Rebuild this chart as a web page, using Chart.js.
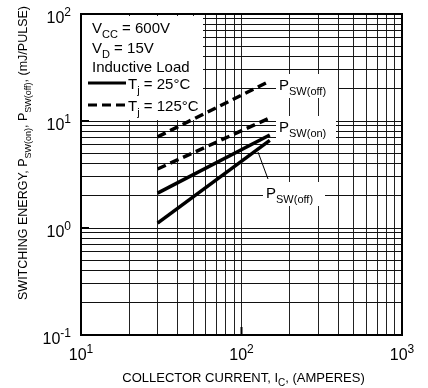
<!DOCTYPE html>
<html>
<head>
<meta charset="utf-8">
<script src="https://cdn.jsdelivr.net/npm/chart.js@4/dist/chart.umd.min.js"></script>
<style>
  body { margin: 0; background: #fff; }
  #wrap { width: 428px; height: 388px; }
</style>
</head>
<body>
<div id="wrap"><canvas id="energyChart" width="428" height="388"></canvas></div>
<script>
// collector current (A) at the two ends of each curve
const currents = [30, 150];
// switching energy (mJ/pulse)
const offHot = [7.1, 23.6];    // Psw(off), Tj = 125°C
const onHot = [3.56, 10.7];    // Psw(on),  Tj = 125°C
const onCold = [2.12, 7.4];    // Psw(on),  Tj = 25°C
const offCold = [1.11, 6.6];   // Psw(off), Tj = 25°C

const xDecades = [1, 2, 3];
const yDecades = [-1, 0, 1, 2];

const FONT = "'Liberation Sans', Arial, sans-serif";

function points(ys) {
    return currents.map((x, i) => ({ x: x, y: ys[i] }));
}

// 1..9 x 10^n between min and max, for the log grid
function logGrid(min, max) {
    const out = [];
    for (let e = Math.round(Math.log10(min)); e < Math.round(Math.log10(max)); e++) {
        for (let m = 1; m < 10; m++) out.push(m * Math.pow(10, e));
    }
    out.push(max);
    return out;
}

// draws text made of pieces: [text, 'sub' | 'sup' | '']
function richText(ctx, parts, x, y, size, align) {
    const small = Math.round(size * 0.75);
    let w = 0;
    parts.forEach(p => {
        ctx.font = (p[1] ? small : size) + 'px ' + FONT;
        w += ctx.measureText(p[0]).width;
    });
    let cx = align === 'right' ? x - w : align === 'center' ? x - w / 2 : x;
    ctx.textAlign = 'left';
    ctx.textBaseline = 'alphabetic';
    parts.forEach(p => {
        ctx.font = (p[1] ? small : size) + 'px ' + FONT;
        let dy = 0;
        if (p[1] === 'sub') dy = size * 0.3;
        if (p[1] === 'sup') dy = -size * 0.42;
        ctx.fillText(p[0], cx, y + dy);
        cx += ctx.measureText(p[0]).width;
    });
    return w;
}

function sw(kind) {
    return [['P', ''], ['SW(' + kind + ')', 'sub']];
}

const decor = {
    id: 'decor',
    beforeDatasetsDraw(chart) {
        const ctx = chart.ctx;
        const a = chart.chartArea;
        const xs = chart.scales.x, ys = chart.scales.y;
        ctx.save();
        ctx.fillStyle = '#fff';
        // legend box
        ctx.fillRect(a.left + 1, a.top + 2, 121, 104);
        // label backgrounds
        ctx.fillRect(276, 74, 62, 24);
        ctx.fillRect(276, 116, 60, 24);
        ctx.fillRect(263, 182, 62, 24);

        ctx.fillStyle = '#000';
        richText(ctx, [['V', ''], ['CC', 'sub'], [' = 600V', '']], a.left + 11, 33, 15, 'left');
        richText(ctx, [['V', ''], ['D', 'sub'], [' = 15V', '']], a.left + 11, 53, 15, 'left');
        richText(ctx, [['Inductive Load', '']], a.left + 11, 72, 15, 'left');
        richText(ctx, [['T', ''], ['j', 'sub'], [' = 25°C', '']], a.left + 47, 89, 15, 'left');
        richText(ctx, [['T', ''], ['j', 'sub'], [' = 125°C', '']], a.left + 47, 111, 15, 'left');

        ctx.strokeStyle = '#000';
        ctx.lineWidth = 3;
        ctx.beginPath();
        ctx.moveTo(a.left + 7, 83);
        ctx.lineTo(a.left + 45, 83);
        ctx.stroke();
        ctx.setLineDash([9, 5]);
        ctx.beginPath();
        ctx.moveTo(a.left + 7, 105);
        ctx.lineTo(a.left + 45, 105);
        ctx.stroke();
        ctx.setLineDash([]);

        // curve labels
        richText(ctx, sw('off'), 279, 90, 15, 'left');
        richText(ctx, sw('on'), 279, 132, 15, 'left');
        richText(ctx, sw('off'), 266, 198, 15, 'left');
        ctx.lineWidth = 1;
        ctx.beginPath();
        ctx.moveTo(258, 152);
        ctx.lineTo(268, 179);
        ctx.stroke();

        // frame and major tick marks
        ctx.lineWidth = 2;
        ctx.strokeRect(a.left, a.top, a.right - a.left, a.bottom - a.top);
        xDecades.forEach(e => {
            const px = xs.getPixelForValue(Math.pow(10, e));
            ctx.beginPath();
            ctx.moveTo(px, a.bottom);
            ctx.lineTo(px, a.bottom - 8);
            ctx.stroke();
        });
        yDecades.forEach(e => {
            const py = ys.getPixelForValue(Math.pow(10, e));
            ctx.beginPath();
            ctx.moveTo(a.left, py);
            ctx.lineTo(a.left + 8, py);
            ctx.stroke();
        });

        // tick labels
        yDecades.forEach(e => {
            const py = ys.getPixelForValue(Math.pow(10, e));
            richText(ctx, [['10', ''], [String(e), 'sup']], a.left - 10, py + 9, 16, 'right');
        });
        xDecades.forEach(e => {
            const px = xs.getPixelForValue(Math.pow(10, e));
            richText(ctx, [['10', ''], [String(e), 'sup']], px, a.bottom + 25, 16, 'center');
        });

        // axis titles
        richText(ctx, [['COLLECTOR CURRENT, I', ''], ['C', 'sub'], [', (AMPERES)', '']],
            (a.left + a.right) / 2 + 2, 382, 13, 'center');
        ctx.translate(27, 153);
        ctx.rotate(-Math.PI / 2);
        richText(ctx, [['SWITCHING ENERGY, P', ''], ['SW(on)', 'sub'], [', P', ''], ['SW(off)', 'sub'], [', (mJ/PULSE)', '']],
            0, 0, 12.5, 'center');
        ctx.restore();
    }
};

const ctx = document.getElementById('energyChart').getContext('2d');
new Chart(ctx, {
    type: 'line',
    data: {
        datasets: [
            { data: points(offHot), borderDash: [9, 5] },
            { data: points(onHot), borderDash: [9, 5] },
            { data: points(onCold) },
            { data: points(offCold) }
        ]
    },
    options: {
        responsive: false,
        animation: false,
        layout: { padding: { left: 81, right: 26, top: 14, bottom: 53 } },
        elements: {
            point: { radius: 0 },
            line: { borderColor: '#000', borderWidth: 3.5, borderCapStyle: 'butt', tension: 0 }
        },
        plugins: { legend: { display: false }, tooltip: { enabled: false } },
        scales: {
            x: {
                type: 'logarithmic',
                min: 10,
                max: 1000,
                afterBuildTicks: s => { s.ticks = logGrid(10, 1000).map(v => ({ value: v })); },
                ticks: { display: false },
                grid: { color: '#222', lineWidth: 1, drawTicks: false },
                border: { display: false }
            },
            y: {
                type: 'logarithmic',
                min: 0.1,
                max: 100,
                afterBuildTicks: s => { s.ticks = logGrid(0.1, 100).map(v => ({ value: v })); },
                ticks: { display: false },
                grid: { color: '#111', lineWidth: 1, drawTicks: false },
                border: { display: false }
            }
        }
    },
    plugins: [decor]
});
</script>
</body>
</html>
